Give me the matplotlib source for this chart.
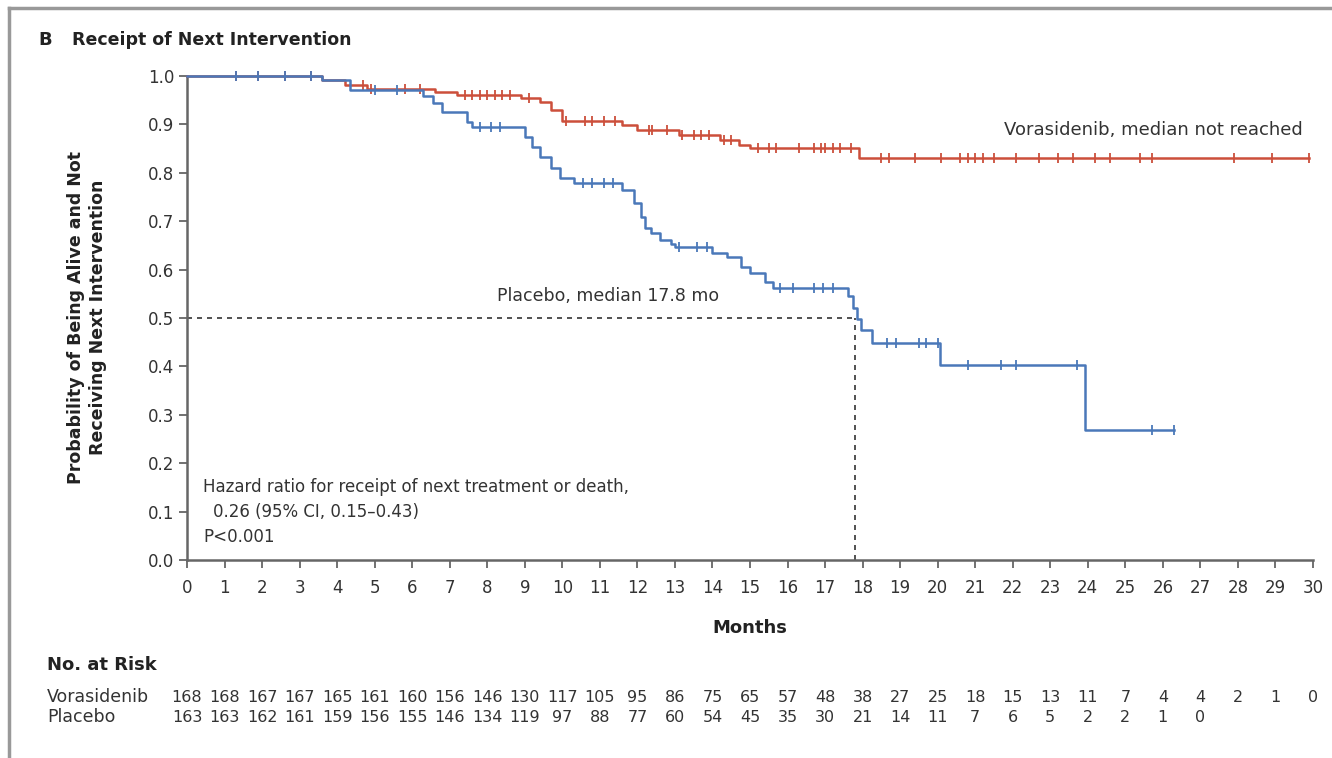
import numpy as np
import matplotlib
matplotlib.use("Agg")
import matplotlib.pyplot as plt
import matplotlib.transforms as mtransforms
from matplotlib.lines import Line2D

# step times (months) and survival after each step
vora_times = [3.6, 4.2, 4.8, 6.6, 7.2, 8.9, 9.4, 9.7, 10.0, 11.6, 12.0, 13.1, 14.2, 14.7, 15.0, 17.9]
vora_surv = [0.992, 0.981, 0.973, 0.967, 0.961, 0.954, 0.947, 0.93, 0.908, 0.898, 0.888, 0.878, 0.868, 0.858, 0.851, 0.831]
vora_end = 29.9
vora_cens = [1.3, 1.9, 2.6, 3.3, 4.7, 4.9, 5.8, 6.2, 7.4, 7.6, 7.8, 8.0, 8.2, 8.4, 8.6, 9.1,
             10.1, 10.6, 10.8, 11.1, 11.4, 12.3, 12.4, 12.8, 13.2, 13.5, 13.7, 13.9, 14.3, 14.5,
             15.2, 15.5, 15.7, 16.3, 16.7, 16.9, 17.0, 17.2, 17.4, 17.7,
             18.5, 18.7, 19.4, 20.1, 20.6, 20.8, 21.0, 21.2, 21.5, 22.1, 22.7, 23.2, 23.6,
             24.2, 24.6, 25.4, 25.7, 27.9, 28.9, 29.9]

plac_times = [3.6, 4.35, 6.3, 6.55, 6.8, 7.45, 7.6, 9.0, 9.2, 9.4, 9.7, 9.95, 10.3, 11.6, 11.9,
              12.1, 12.2, 12.35, 12.6, 12.9, 13.0, 14.0, 14.4, 14.75, 15.0, 15.4, 15.6, 17.6,
              17.75, 17.85, 17.95, 18.25, 20.07, 23.93]
plac_surv = [0.992, 0.971, 0.958, 0.944, 0.926, 0.905, 0.895, 0.874, 0.853, 0.833, 0.81, 0.789, 0.779,
             0.764, 0.737, 0.709, 0.686, 0.675, 0.662, 0.652, 0.647, 0.635, 0.626, 0.605, 0.593,
             0.575, 0.562, 0.545, 0.52, 0.498, 0.475, 0.448, 0.403, 0.268]
plac_end = 26.3
plac_cens = [1.3, 1.9, 2.6, 3.3, 5.0, 5.6, 7.8, 8.1, 8.35, 10.55, 10.8, 11.1, 11.35, 13.1, 13.6, 13.85,
             15.8, 16.15, 16.7, 16.95, 17.2, 18.65, 18.9, 19.5, 19.7, 20.0, 20.8, 21.7, 22.1,
             23.7, 25.7, 26.3]

months = list(range(0, 31))
vora_risk = [168, 168, 167, 167, 165, 161, 160, 156, 146, 130, 117, 105, 95, 86, 75, 65, 57, 48,
             38, 27, 25, 18, 15, 13, 11, 7, 4, 4, 2, 1, 0]
plac_risk = [163, 163, 162, 161, 159, 156, 155, 146, 134, 119, 97, 88, 77, 60, 54, 45, 35, 30,
             21, 14, 11, 7, 6, 5, 2, 2, 1, 0]

median_plac = 17.8

red = "#cc4f3b"
blue = "#4a78b9"
txt = "#333333"

fig = plt.figure(figsize=(13.32, 7.58), dpi=100)
ax = fig.add_axes([187 / 1332, 1 - 560 / 758, (1313 - 187) / 1332, 484 / 758])


def step_value(t, times, surv):
    # survival at time t from the step data
    idx = np.searchsorted(times, t, side="right")
    vals = np.r_[1.0, surv]
    return vals[idx]


for times, surv, end, cens, col in [(vora_times, vora_surv, vora_end, vora_cens, red),
                                    (plac_times, plac_surv, plac_end, plac_cens, blue)]:
    xs = np.r_[0, times, end]
    ys = np.r_[1.0, surv, surv[-1]]
    ax.step(xs, ys, where="post", color=col, lw=1.8, clip_on=False, zorder=3)
    cy = step_value(np.array(cens), np.array(times), np.array(surv))
    ax.plot(cens, cy, ls="none", marker="|", ms=7, mew=1.3, color=col, clip_on=False, zorder=3)

# median lines
ax.plot([0, median_plac], [0.5, 0.5], ls=(0, (3, 3)), color="#333333", lw=1.2, zorder=2)
ax.plot([median_plac, median_plac], [0, 0.5], ls=(0, (3, 3)), color="#333333", lw=1.2, zorder=2)

ax.set_xlim(0, 30)
ax.set_ylim(0, 1.0)
ax.set_xticks(months)
ax.set_yticks(np.arange(0, 1.01, 0.1))
ax.set_yticklabels([f"{v:.1f}" for v in np.arange(0, 1.01, 0.1)])
for s in ["top", "right"]:
    ax.spines[s].set_visible(False)
for s in ["left", "bottom"]:
    ax.spines[s].set_color("#666666")
    ax.spines[s].set_linewidth(1.8)
ax.tick_params(axis="both", direction="out", length=6, width=1.3, color="#666666",
               labelsize=12, labelcolor=txt)
ax.tick_params(axis="x", pad=8)
ax.tick_params(axis="y", pad=3)

# annotations
ax.text(29.74, 0.888, "Vorasidenib, median not reached", ha="right", va="center",
        fontsize=13, color=txt)
ax.text(8.26, 0.545, "Placebo, median 17.8 mo", ha="left", va="center", fontsize=12.5, color=txt)
ax.text(0.43, 0.151, "Hazard ratio for receipt of next treatment or death,", ha="left",
        va="center", fontsize=12, color=txt)
ax.text(0.69, 0.099, "0.26 (95% CI, 0.15\u20130.43)", ha="left", va="center", fontsize=12, color=txt)
ax.text(0.43, 0.048, "P<0.001", ha="left", va="center", fontsize=12, color=txt)

# titles and labels
fig.text(38 / 1332, 1 - 40 / 758, "B", fontsize=13, fontweight="bold", va="center", color="#222222")
fig.text(72 / 1332, 1 - 40 / 758, "Receipt of Next Intervention", fontsize=12.5,
         fontweight="bold", va="center", color="#222222")
fig.text(87 / 1332, 1 - 317 / 758, "Probability of Being Alive and Not\nReceiving Next Intervention",
         rotation=90, ha="center", va="center", multialignment="center", fontsize=12.5,
         fontweight="bold", color="#222222", linespacing=1.35)
fig.text(750 / 1332, 1 - 628 / 758, "Months", ha="center", va="center", fontsize=13,
         fontweight="bold", color="#222222")

# number at risk table
fig.text(47 / 1332, 1 - 665 / 758, "No. at Risk", ha="left", va="center", fontsize=13,
         fontweight="bold", color="#222222")
fig.text(47 / 1332, 1 - 697 / 758, "Vorasidenib", ha="left", va="center", fontsize=12.5, color=txt)
fig.text(47 / 1332, 1 - 717 / 758, "Placebo", ha="left", va="center", fontsize=12.5, color=txt)
trans = mtransforms.blended_transform_factory(ax.transData, fig.transFigure)
for m, n in zip(months, vora_risk):
    ax.text(m, 1 - 697 / 758, str(n), transform=trans, ha="center", va="center",
            fontsize=11.5, color=txt, clip_on=False)
for m, n in zip(months, plac_risk):
    ax.text(m, 1 - 717 / 758, str(n), transform=trans, ha="center", va="center",
            fontsize=11.5, color=txt, clip_on=False)

# panel frame
fig.add_artist(Line2D([9 / 1332, 1], [1 - 8 / 758, 1 - 8 / 758], transform=fig.transFigure,
                      color="#999999", lw=2.5))
fig.add_artist(Line2D([9 / 1332, 9 / 1332], [0, 1 - 8 / 758], transform=fig.transFigure,
                      color="#999999", lw=2.5))

fig.savefig("out.png", dpi=100)
